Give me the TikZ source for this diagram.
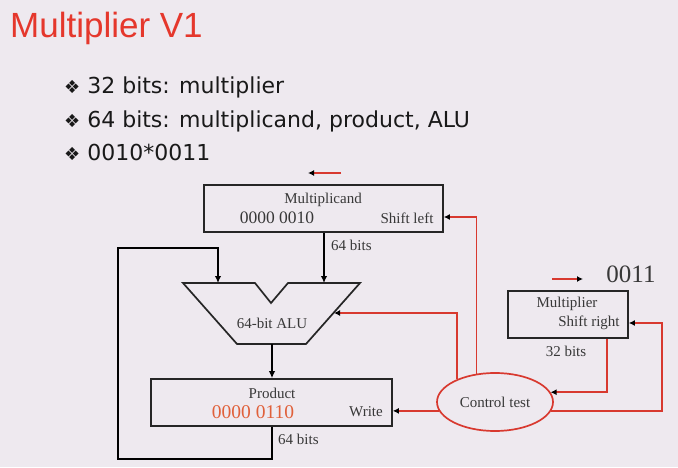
\documentclass[tikz,border=0pt]{standalone}
\usepackage{fontspec}
\setmainfont{Liberation Serif}
\newfontfamily\slidefont{Liberation Sans}
\newfontfamily\itemfont{DejaVu Sans}
\usetikzlibrary{shapes,arrows.meta,positioning}
\definecolor{slidebg}{HTML}{EEE9EF}
\definecolor{ctlred}{HTML}{D8392F}
\definecolor{titlered}{HTML}{E5372C}
\definecolor{valred}{HTML}{E0603A}
\definecolor{ink}{HTML}{383838}
\tikzstyle{title} = [font=\slidefont\fontsize{35}{35}\selectfont, text=titlered, inner sep=0pt, anchor=base west]
\tikzstyle{item} = [font=\itemfont\fontsize{22}{22}\selectfont, text=black!90, inner sep=0pt, anchor=base west]
\tikzstyle{reg} = [rectangle, draw=black!85, line width=1.7pt, inner sep=0pt]
\tikzstyle{lbl} = [font=\fontsize{15}{15}\selectfont, text=ink, inner sep=0pt]
\tikzstyle{ctrlbox} = [ellipse, draw=ctlred, line width=1.7pt, minimum width=116pt, minimum height=58pt, inner sep=0pt]
\tikzstyle{line} = [draw, line width=2.4pt, -{Latex[length=7pt,width=6.5pt]}]
\tikzstyle{ctl} = [draw=ctlred, line width=1.7pt, -{Latex[black,length=6pt,width=6pt]}]

\begin{document}
\begin{tikzpicture}[x=1pt,y=1pt]
    \fill[slidebg] (0,0) rectangle (678,467);
    \useasboundingbox (0,0) rectangle (678,467);
    \node [title] (title) at (10,429) {Multiplier V1};
    \node [item] (item1) at (64,373) {{\fontsize{18}{18}\selectfont ❖} 32 bits: multiplier};
    \node [item] (item2) at (64,339) {{\fontsize{18}{18}\selectfont ❖} 64 bits: multiplicand, product, ALU};
    \node [item] (item3) at (64,306) {{\fontsize{18}{18}\selectfont ❖} 0010*0011};
    \node [reg, minimum width=239pt, minimum height=47pt] (mcand) at (323.5,258.5) {};
    \node [lbl] (mcandname) at (323,267) {Multiplicand};
    \node [lbl, font=\fontsize{17.5}{17.5}\selectfont] (mcandval) at (277,249) {0000 0010};
    \node [lbl] (mcandop) at (407,249) {Shift left};
    \node [reg, minimum width=120pt, minimum height=47pt] (mplier) at (568,152.5) {};
    \node [lbl] (mpliername) at (567,163) {Multiplier};
    \node [lbl] (mplierop) at (589,144) {Shift right};
    \node [lbl, font=\fontsize{25}{25}\selectfont] (mplierval) at (631,193) {0011};
    \node [reg, minimum width=241pt, minimum height=47pt] (prod) at (271.5,64.5) {};
    \node [lbl] (prodname) at (272,74) {Product};
    \node [lbl, text=valred, font=\fontsize{19.5}{19.5}\selectfont] (prodval) at (253,55) {0000 0110};
    \node [lbl] (prodop) at (366,55) {Write};
    \node [ctrlbox] (ctrl) at (495,65) {};
    \node [lbl] (ctrlname) at (495,65) {Control test};
    \coordinate (alutl) at (183,184);
    \coordinate (aluna) at (255,184);
    \coordinate (alunb) at (271,164);
    \coordinate (alunc) at (288,184);
    \coordinate (alutr) at (360,184);
    \coordinate (alubr) at (306,123);
    \coordinate (alubl) at (237,123);
    \draw [black!85, line width=1.7pt, line join=miter] (alutl) -- (aluna) -- (alunb) -- (alunc) -- (alutr) -- (alubr) -- (alubl) -- cycle;
    \node [lbl] (alu) at (272,144) {64-bit ALU};
    \coordinate (aluina) at (218,184);
    \coordinate (aluinb) at (324,184);
    \coordinate (aluout) at (272,123);
    \coordinate (aluctl) at (334,154);
    \coordinate (loopbot) at (118,8);
    \coordinate (looptop) at (118,219);
    \path [line] (mcand.south -| aluinb) -- (aluinb);
    \node [lbl, anchor=west] (mcandbits) at (331,222) {64 bits};
    \path [line] (aluout) -- (prod.north -| aluout);
    \path [line] (prod.south -| aluout) |- (loopbot) -- (looptop) -| (aluina);
    \node [lbl, anchor=west] (prodbits) at (278,28) {64 bits};
    \node [lbl] (mplierbits) at (566,116) {32 bits};
    \path [ctl] (ctrl.189) -- (ctrl.189 -| prod.east);
    \path [ctl] (ctrl.149) |- (aluctl);
    \path [ctl] ([yshift=-8.5pt]mcand.east -| ctrl.123) -- ([yshift=-8.5pt]mcand.east);
    \draw [ctlred, line width=1.7pt] (ctrl.123) -- ([yshift=-8.5pt]mcand.east -| ctrl.123);
    \path [ctl] ([xshift=39pt]mplier.south) |- (ctrl.10);
    \path [ctl] (ctrl.351) -| ([xshift=33pt]mplier.east |- mplierop) -- (mplier.east |- mplierop);
    \coordinate (shlfrom) at (341,294);
    \coordinate (shlto) at (308,294);
    \coordinate (shrfrom) at (552,188);
    \coordinate (shrto) at (583,188);
    \path [ctl] (shlfrom) -- (shlto);
    \path [ctl] (shrfrom) -- (shrto);
\end{tikzpicture}
\end{document}
